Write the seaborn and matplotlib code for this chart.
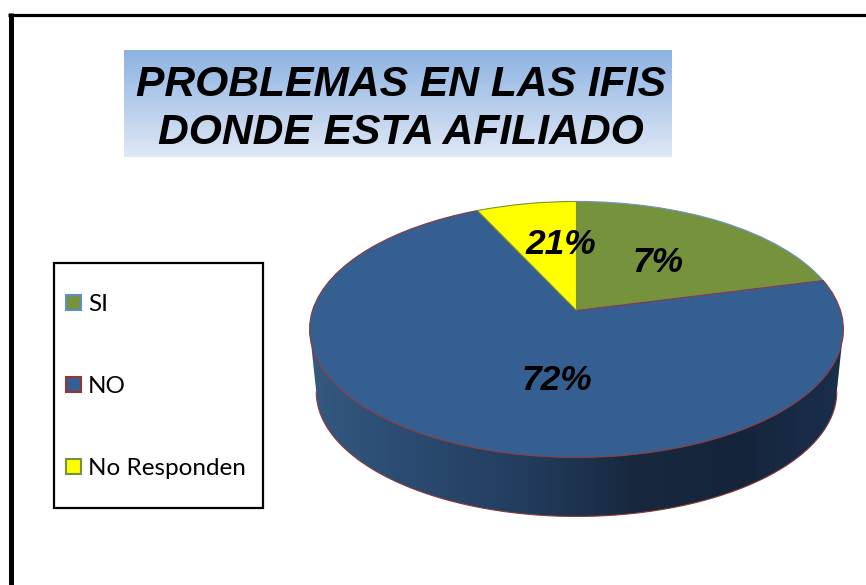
import numpy as np
import matplotlib
matplotlib.use("Agg")
import matplotlib.pyplot as plt
import seaborn as sns
from matplotlib.colors import LinearSegmentedColormap
from matplotlib.patches import Patch, Rectangle
from matplotlib.path import Path
from matplotlib.transforms import Transform

categories = ["SI", "NO", "No Responden"]
values = [21, 72, 7]
shown_labels = ["7%", "72%", "21%"]
slice_colors = ["#76923c", "#365f91", "#ffff00"]
slice_edges = ["#6f94c4", "#8c3a3a", "#76923c"]
title_lines = "PROBLEMAS EN LAS IFIS\nDONDE ESTA AFILIADO"

sns.set_theme(style="white")
plt.rcParams["font.family"] = ["Liberation Sans", "DejaVu Sans"]

W, H = 866, 585
fig = plt.figure(figsize=(W / 100, H / 100), dpi=100, facecolor="white")
ax = fig.add_axes([0, 0, 1, 1])
ax.set_xlim(0, W)
ax.set_ylim(H, 0)
ax.axis("off")


class Tilt(Transform):
    """Perspective view of the unit-radius pie, in pixels of the axes."""
    input_dims = output_dims = 2

    def __init__(self, dy=0.0, scale=1.0):
        super().__init__()
        self.dy = dy
        self.scale = scale

    def transform_non_affine(self, xy):
        xy = np.asarray(xy, float)
        d = 1 + 0.148 * xy[:, 1]
        return np.column_stack([576.5 + self.scale * 264 * xy[:, 0] / d,
                                310.5 + self.dy - self.scale * 125.2 * xy[:, 1] / d])


# page frame: left and top rules only
ax.plot([10.5, 10.5], [13.4, H], color="black", lw=3.6, solid_capstyle="butt", zorder=1)
ax.plot([8, W], [14.5, 14.5], color="black", lw=2.3, solid_capstyle="butt", zorder=1)

# title with gradient band
band = LinearSegmentedColormap.from_list("band", ["#8db3e2", "#dfe7f5"])
ax.imshow(np.linspace(0, 1, 106)[:, None], extent=(124, 672, 157.5, 51), cmap=band,
          aspect="auto", zorder=2)
ax.text(401, 109, title_lines, ha="center", va="center", fontsize=30.7,
        fontweight="bold", fontstyle="italic", color="black", linespacing=1.26, zorder=3)

# pie side wall
theta = np.linspace(np.pi + 0.1486, 2 * np.pi - 0.1486, 300)
rim = np.column_stack([np.cos(theta), np.sin(theta)])
low = Tilt(62.7, 0.975).transform(rim)
high = Tilt(0).transform(rim)
wall_xy = np.vstack([high, low[::-1]])
wall_cmap = LinearSegmentedColormap.from_list(
    "wall", ["#35597f", "#2a4a70", "#223d5e", "#18293f", "#15243b", "#1b2f4b"])
wall = ax.imshow(np.linspace(0, 1, 256)[None, :], extent=(309, 844, 520, 300),
                 cmap=wall_cmap, aspect="auto", zorder=4)
wall.set_clip_path(Path(wall_xy), ax.transData)
ax.plot(low[:, 0], low[:, 1], color="#8c3a3a", lw=0.8, zorder=5)

# pie top face
wedges, _ = ax.pie(values, colors=slice_colors, startangle=90, counterclock=False,
                   radius=1, frame=True)
ax.set_aspect("auto")
ax.set_xlim(0, W)
ax.set_ylim(H, 0)
ax.axis("off")
top = Tilt(0) + ax.transData
for wedge, edge in zip(wedges, slice_edges):
    wedge.set_transform(top)
    wedge.set_edgecolor(edge)
    wedge.set_linewidth(0.8)
    wedge.set_zorder(6)

# value labels as printed on the chart
for (x, y), txt in zip([(658, 262), (557, 381), (561, 245)], shown_labels):
    ax.text(x, y, txt, ha="center", va="center", fontsize=25.5, fontweight="bold",
            fontstyle="italic", color="black", zorder=8)

# legend
ax.add_patch(Rectangle((53.5, 262.5), 209, 245, facecolor="white", edgecolor="black",
                       lw=1.6, zorder=2))
handles = [Patch(facecolor=c, edgecolor=e, linewidth=1.5) for c, e in
           zip(slice_colors, ["#5f8fc8", "#943634", "#76923c"])]
leg = ax.legend(handles, categories, loc="upper left", bbox_to_anchor=(65.5 / W, 1 - 294 / H),
                bbox_transform=fig.transFigure, frameon=False, borderpad=0, borderaxespad=0,
                handlelength=0.62, handleheight=0.62, handletextpad=0.3, labelspacing=2.51,
                labelcolor="black", prop={"family": "Lato", "size": 17.5})
leg.set_zorder(9)

fig.savefig("out.png", dpi=100, facecolor="white")
